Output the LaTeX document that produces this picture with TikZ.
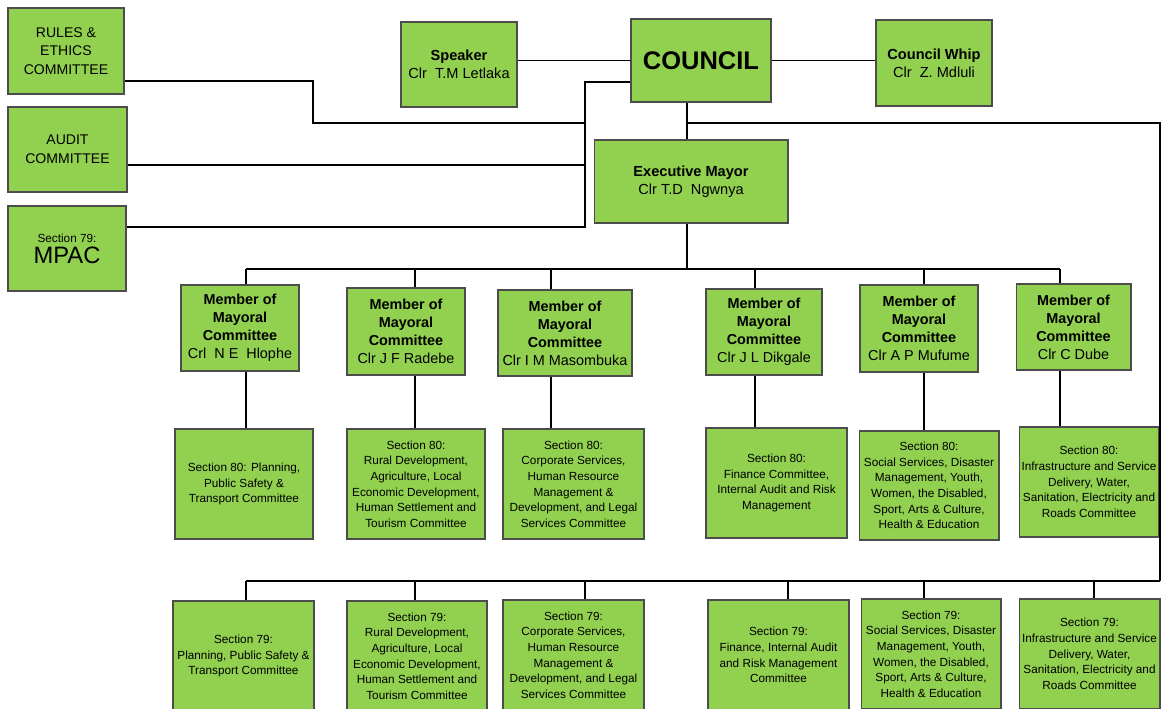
\documentclass[tikz,border=0pt]{standalone}
\usepackage{fontspec}
\setmainfont{Liberation Sans}
\usetikzlibrary{positioning}
\definecolor{boxgreen}{HTML}{92D050}

\newcommand{\mayco}[1]{\textbf{Member of}\\\textbf{Mayoral}\\\textbf{Committee}\\#1}

\begin{document}
\begin{tikzpicture}[x=0.02cm,y=-0.02cm,
    box/.style={draw=black!70,fill=boxgreen,line width=0.6pt,align=center,inner sep=1pt},
    member/.style={box,font=\fontsize{8.2}{10.2}\selectfont},
    sect/.style={box,font=\fontsize{6.7}{8.9}\selectfont,minimum height=2.2cm},
    head/.style={box,font=\fontsize{8.3}{10.2}\selectfont},
    link/.style={line width=0.9pt,black}]
  \useasboundingbox (0,0) rectangle (1162,709);
  \clip (0,0) rectangle (1162,709);

  % committees on the left
  \node[box,font=\fontsize{8}{10.6}\selectfont,minimum width=2.32cm,minimum height=1.72cm] (rules) at (66,51) {RULES \&\\ETHICS\\COMMITTEE};
  \node[box,font=\fontsize{8}{10.6}\selectfont,minimum width=2.38cm,minimum height=1.70cm] (audit) at (67.5,149.5) {AUDIT\\COMMITTEE};
  \node[box,minimum width=2.36cm,minimum height=1.70cm] (mpac) at (67,248.5) {{\fontsize{6.7}{8}\selectfont Section 79:}\\{\fontsize{13.5}{15}\selectfont MPAC}};

  % top row
  \node[head,minimum width=2.32cm,minimum height=1.70cm] (speaker) at (459,64.5) {\textbf{Speaker}\\Clr~ T.M Letlaka};
  \node[box,font=\fontsize{14.5}{17}\selectfont\bfseries,minimum width=2.80cm,minimum height=1.66cm] (council) at (701,60.5) {COUNCIL};
  \node[head,minimum width=2.32cm,minimum height=1.72cm] (whip) at (934,63) {\textbf{Council Whip}\\Clr~ Z. Mdluli};
  \node[head,minimum width=3.88cm,minimum height=1.66cm] (mayor) at (691,181.5) {\textbf{Executive Mayor}\\Clr T.D~ Ngwnya};

  % members of mayoral committee
  \node[member,minimum width=2.36cm,minimum height=1.72cm] (m1) at (240,328) {\mayco{Crl~ N E~ Hlophe}};
  \node[member,minimum width=2.36cm,minimum height=1.74cm] (m2) at (406,331.5) {\mayco{Clr J F Radebe}};
  \node[member,minimum width=2.68cm,minimum height=1.72cm] (m3) at (565,333) {\mayco{Clr I M Masombuka}};
  \node[member,minimum width=2.32cm,minimum height=1.72cm] (m4) at (764,332) {\mayco{Clr J L Dikgale}};
  \node[member,minimum width=2.36cm,minimum height=1.74cm] (m5) at (919,328.5) {\mayco{Clr A P Mufume}};
  \node[member,minimum width=2.30cm,minimum height=1.72cm] (m6) at (1073.5,327) {\mayco{Clr C Dube}};

  % section 80 committees
  \node[sect,minimum width=2.76cm] (a1) at (244,484) {Section 80: Planning,\\Public Safety \&\\Transport Committee};
  \node[sect,minimum width=2.76cm] (a2) at (416,484) {Section 80:\\Rural Development,\\Agriculture, Local\\Economic Development,\\Human Settlement and\\Tourism Committee};
  \node[sect,minimum width=2.82cm] (a3) at (573.5,484) {Section 80:\\Corporate Services,\\Human Resource\\Management \&\\Development, and Legal\\Services Committee};
  \node[sect,minimum width=2.82cm] (a4) at (776.5,483) {Section 80:\\Finance Committee,\\Internal Audit and Risk\\Management};
  \node[sect,minimum width=2.80cm,minimum height=2.18cm] (a5) at (929,485.5) {Section 80:\\Social Services, Disaster\\Management, Youth,\\Women, the Disabled,\\Sport, Arts \& Culture,\\Health \& Education};
  \node[sect,minimum width=2.80cm] (a6) at (1089,482) {Section 80:\\Infrastructure and Service\\Delivery, Water,\\Sanitation, Electricity and\\Roads Committee};

  % section 79 committees
  \node[sect,minimum width=2.82cm] (b1) at (243.5,656) {Section 79:\\Planning, Public Safety \&\\Transport Committee};
  \node[sect,minimum width=2.80cm] (b2) at (417,656) {Section 79:\\Rural Development,\\Agriculture, Local\\Economic Development,\\Human Settlement and\\Tourism Committee};
  \node[sect,minimum width=2.82cm] (b3) at (573.5,655) {Section 79:\\Corporate Services,\\Human Resource\\Management \&\\Development, and Legal\\Services Committee};
  \node[sect,minimum width=2.82cm] (b4) at (778.5,655) {Section 79:\\Finance, Internal Audit\\and Risk Management\\Committee};
  \node[sect,minimum width=2.80cm] (b5) at (931,654) {Section 79:\\Social Services, Disaster\\Management, Youth,\\Women, the Disabled,\\Sport, Arts \& Culture,\\Health \& Education};
  \node[sect,minimum width=2.82cm] (b6) at (1089.5,654) {Section 79:\\Infrastructure and Service\\Delivery, Water,\\Sanitation, Electricity and\\Roads Committee};

  % council links
  \draw[link] (council.west) -- (council.west -| speaker.east);
  \draw[link] (council.east) -- (council.east -| whip.west);
  \coordinate (side) at (585,82);
  \coordinate (k0) at (313,81);
  \coordinate (k1) at (585,123);
  \coordinate (k2) at (585,165);
  \coordinate (k3) at (585,227);
  \draw[link] (council.west |- side) -- (side) -- (k3) -- (k3 -| mpac.east);
  \draw[link] (k0 -| rules.east) -- (k0) |- (k1);
  \draw[link] (k2) -- (k2 -| audit.east);

  % trunk to mayor and section 79 bus
  \coordinate (trunk) at (687,123);
  \coordinate (bus79) at (1160,581);
  \draw[link] (council.south -| trunk) -- (mayor.north -| trunk);
  \draw[link] (trunk) -| (bus79);
  \coordinate (bus) at (687,269);
  \draw[link] (mayor.south -| bus) -- (bus);

  \foreach \i/\x in {1/246,2/415,3/551,4/755,5/924,6/1060} {
    \coordinate (d\i) at (\x,269);
    \draw[link] (d\i) -- (d\i |- m\i.north);
    \draw[link] (d\i |- m\i.south) -- (d\i |- a\i.north);
  }
  \draw[link] (d1) -- (d6);

  \foreach \i/\x in {1/246,2/415,3/585,4/788,5/924,6/1094} {
    \coordinate (e\i) at (\x,581);
    \draw[link] (e\i) -- (e\i |- b\i.north);
  }
  \draw[link] (e1) -- (bus79);
\end{tikzpicture}
\end{document}
